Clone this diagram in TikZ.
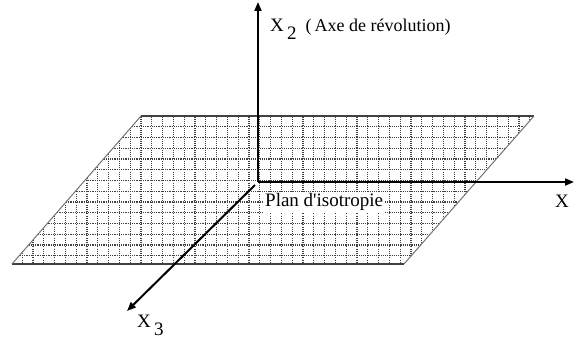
\documentclass[tikz,border=0pt]{standalone}
\usepackage{fontspec}
\setmainfont{Liberation Serif}
\usetikzlibrary{arrows.meta}
\tikzset{
  axis/.style={line width=2pt,-{Triangle[length=9pt,width=7pt]}},
  edge/.style={line width=1.6pt,draw=black!75},
  slant/.style={line width=1pt,draw=black!55},
  gridline/.style={line width=1.1pt,draw=black!75,dash pattern=on 1.1pt off 1.1pt},
  lab/.style={font=\fontsize{19}{22}\selectfont,inner sep=0pt},
}
\begin{document}
\begin{tikzpicture}[x=1pt,y=-1pt]
  \useasboundingbox (0,0) rectangle (574,342);
  % corners of the plane
  \coordinate (tl) at (141,116);
  \coordinate (tr) at (534,116);
  \coordinate (br) at (404,264);
  \coordinate (bl) at (12,264);
  % the dotted grid, clipped to the plane
  \begin{scope}
    \clip (tl) -- (tr) -- (br) -- (bl) -- cycle;
    \foreach \i in {-12,...,36} { \draw[gridline] (141+10.8*\i,110) -- ++(0,160); }
    \foreach \j in {1,...,13} { \draw[gridline] (0,116+10.75*\j) -- ++(574,0); }
  \end{scope}
  \draw[edge] (tl) -- (tr);
  \draw[edge] (bl) -- (br);
  \draw[slant] (tl) -- (bl);
  \draw[slant] (tr) -- (br);
  % axes
  \coordinate (O) at (258,182);
  \coordinate (x3start) at (255,185);
  \coordinate (x2tip) at (258,2);
  \coordinate (xtip) at (574,182);
  \coordinate (x3tip) at (127,311);
  \draw[axis] (O) -- (x2tip);
  \draw[axis] (O) -- (xtip);
  \draw[axis] (x3start) -- (x3tip);
  % labels
  \node[lab,anchor=base west] (x2lab) at (270,32) {X\raisebox{-8pt}{\,2}\hspace{9pt}{\fontsize{18}{21}\selectfont(\,Axe de révolution)}};
  \node[lab,anchor=base west] (xlab) at (555,208) {X};
  \node[lab,anchor=base west] (x3lab) at (137,327) {X\raisebox{-9pt}{\,3}};
  \node[lab,anchor=base west,fill=white,inner sep=2pt] (plan) at (263,207) {Plan d\textquotesingle isotropie};
\end{tikzpicture}
\end{document}
